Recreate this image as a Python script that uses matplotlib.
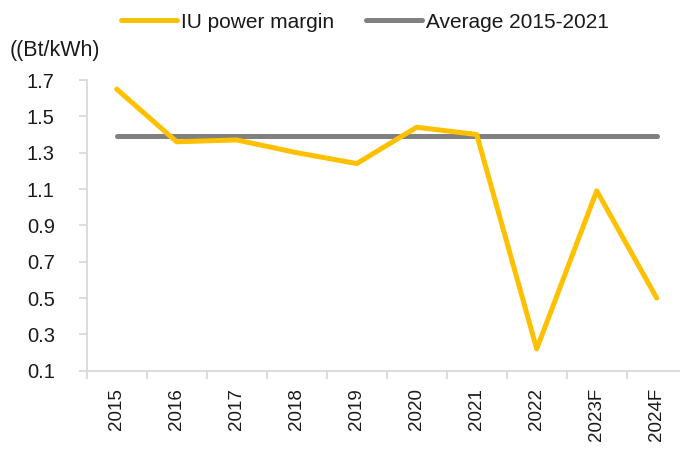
import matplotlib
matplotlib.use("Agg")
import matplotlib.pyplot as plt
import numpy as np

# chart data
years = ['2015', '2016', '2017', '2018', '2019', '2020', '2021', '2022', '2023F', '2024F']
margin = [1.65, 1.36, 1.37, 1.30, 1.24, 1.44, 1.40, 0.22, 1.09, 0.50]
average = [1.39] * len(years)
y_ticks = [0.1, 0.3, 0.5, 0.7, 0.9, 1.1, 1.3, 1.5, 1.7]

text_font = ['Liberation Sans', 'DejaVu Sans']
yellow = '#FFC000'
grey = '#808080'
spine_col = '#D9D9D9'
text_col = '#1A1A1A'

fig = plt.figure(figsize=(6.8, 4.51), dpi=100)
W, H = 680, 451
left, right, bottom, top = 86.7, 686.7, 370.7, 80.0
ax = fig.add_axes([left / W, 1 - bottom / H, (right - left) / W, (bottom - top) / H])

x = np.arange(len(years))
ax.plot(x, margin, color=yellow, lw=3.6, solid_capstyle='round',
        solid_joinstyle='round', label='IU power margin', zorder=3)
ax.plot(x, average, color=grey, lw=3.6, solid_capstyle='round',
        label='Average 2015-2021', zorder=2)

ax.set_xlim(-0.5, len(years) - 0.5)
ax.set_ylim(0.1, 1.7)

for s in ['top', 'right']:
    ax.spines[s].set_visible(False)
for s in ['left', 'bottom']:
    ax.spines[s].set_color(spine_col)
    ax.spines[s].set_linewidth(1.3)

ax.set_yticks(y_ticks)
ax.set_yticklabels([f'{v:.1f}' for v in y_ticks], family=text_font, fontsize=14.5, color=text_col)
ax.tick_params(axis='y', length=6, width=1.3, color=spine_col, pad=17)

ax.set_xticks(x)
ax.set_xticklabels(years, rotation=90, family=text_font, fontsize=13.5, color=text_col)
ax.set_xticks(np.arange(len(years) + 1) - 0.5, minor=True)
ax.tick_params(axis='x', which='major', length=0, pad=12.5)
ax.tick_params(axis='x', which='minor', length=6, width=1.3, color=spine_col)

fig.text(10 / W, 1 - 50.5 / H, '((Bt/kWh)', family=text_font, fontsize=15.5,
         color=text_col, ha='left', va='center')

leg = fig.legend(loc='center', bbox_to_anchor=(365 / W, 1 - 22 / H), ncol=2, frameon=False,
                 prop={'family': text_font, 'size': 15}, handlelength=2.7,
                 handletextpad=0.2, columnspacing=1.5, borderaxespad=0)
for t in leg.get_texts():
    t.set_color(text_col)

fig.savefig('out.png', dpi=100)
